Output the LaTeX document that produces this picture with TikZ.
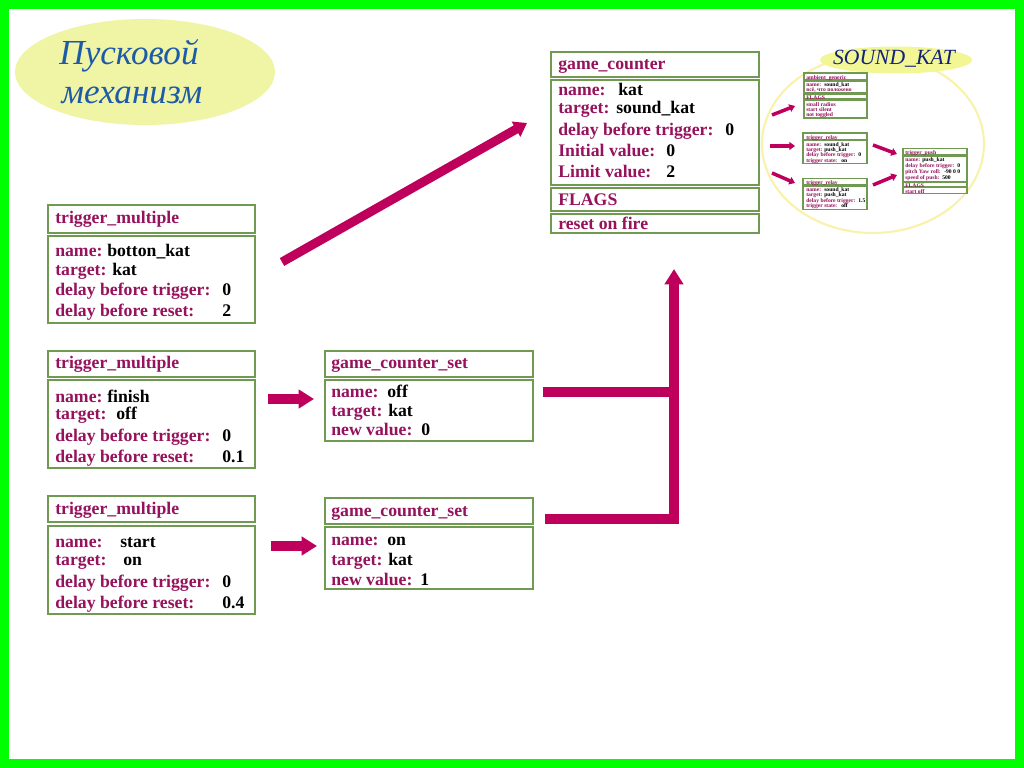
\documentclass[tikz,border=0pt]{standalone}
\usepackage{fontspec}
\setmainfont{Liberation Serif}
\usetikzlibrary{arrows.meta,positioning,calc,fit,shapes.geometric}
\definecolor{framegreen}{RGB}{0,255,0}
\definecolor{boxgreen}{RGB}{112,154,82}
\definecolor{lblpurple}{RGB}{150,18,92}
\definecolor{arrowred}{RGB}{190,0,92}
\definecolor{paleyellow}{RGB}{240,245,165}
\definecolor{titleblue}{RGB}{30,90,170}
\definecolor{navy}{RGB}{20,35,120}
\definecolor{rimyellow}{RGB}{248,242,170}
\newcommand\lblfont{\bfseries\fontsize{12.6}{14}\selectfont}
\newcommand\minifont{\bfseries\fontsize{4}{5}\selectfont}

\begin{document}
\begin{tikzpicture}[
    x=0.025cm, y=-0.025cm,
    box/.style={draw=boxgreen, line width=2.1pt, inner sep=0pt},
    minibox/.style={draw=boxgreen, line width=0.8pt, inner sep=0pt},
    lbl/.style={font=\lblfont, text=lblpurple, anchor=west, inner sep=0pt, text height=1em, text depth=0.16em},
    val/.style={lbl, text=black},
    mlbl/.style={lbl, font=\minifont, text height=0.7em, text depth=0.3em},
    mval/.style={mlbl, text=black},
    fat/.style={draw=arrowred, line width=7pt},
    fattip/.style={-{Triangle[width=13pt,length=11pt]}},
    thinarrow/.style={draw=arrowred, line width=2.5pt, -{Triangle[width=5.5pt,length=4pt]}}
]
    \useasboundingbox (0,0) rectangle (1024,768);
    % frame
    \fill[framegreen] (0,0) rectangle (1024,768);
    \fill[white] (9,9) rectangle (1015,759);

    % title
    \node[ellipse, fill=paleyellow, minimum width=260*0.025cm, minimum height=106*0.025cm] (title) at (145,72) {};
    \node[font=\itshape\fontsize{25}{30}\selectfont, text=titleblue, anchor=base] (title1) at (129,65) {Пусковой};
    \node[font=\itshape\fontsize{25}{30}\selectfont, text=titleblue, anchor=base] (title2) at (132,104) {механизм};

    % trigger_multiple (botton_kat)
    \node[box, fit={(48,205) (255,233)}] (tmAhead) {};
    \node[box, fit={(48,236) (255,323)}] (tmAbody) {};
    \node[lbl] (tmA-t) at (55,218) {trigger\_multiple};
    \foreach \yy/\lab/\vx/\vv [count=\i] in {251/name:/107/botton\_kat, 270/target:/112/kat, 290/delay before trigger:/222/0, 311/delay before reset:/222/2}
      {\node[lbl] (tmA-l\i) at (55,\yy) {\lab}; \node[val] (tmA-v\i) at (\vx,\yy) {\vv};}

    % trigger_multiple (finish)
    \node[box, fit={(48,351) (255,377)}] (tmBhead) {};
    \node[box, fit={(48,380) (255,468)}] (tmBbody) {};
    \node[lbl] (tmB-t) at (55,363) {trigger\_multiple};
    \foreach \yy/\lab/\vx/\vv [count=\i] in {397/name:/107/finish, 414/target:/116/off, 436/delay before trigger:/222/0, 457/delay before reset:/222/0.1}
      {\node[lbl] (tmB-l\i) at (55,\yy) {\lab}; \node[val] (tmB-v\i) at (\vx,\yy) {\vv};}

    % trigger_multiple (start)
    \node[box, fit={(48,496) (255,522)}] (tmChead) {};
    \node[box, fit={(48,526) (255,614)}] (tmCbody) {};
    \node[lbl] (tmC-t) at (55,509) {trigger\_multiple};
    \foreach \yy/\lab/\vx/\vv [count=\i] in {542/name:/120/start, 560/target:/123/on, 582/delay before trigger:/222/0, 603/delay before reset:/222/0.4}
      {\node[lbl] (tmC-l\i) at (55,\yy) {\lab}; \node[val] (tmC-v\i) at (\vx,\yy) {\vv};}

    % game_counter_set (off)
    \node[box, fit={(325,351) (533,377)}] (gcsAhead) {};
    \node[box, fit={(325,380) (533,441)}] (gcsAbody) {};
    \node[lbl] (gcsA-t) at (331,363) {game\_counter\_set};
    \foreach \yy/\lab/\vx/\vv [count=\i] in {392/name:/387/off, 411/target:/388/kat, 430/new value:/421/0}
      {\node[lbl] (gcsA-l\i) at (331,\yy) {\lab}; \node[val] (gcsA-v\i) at (\vx,\yy) {\vv};}

    % game_counter_set (on)
    \node[box, fit={(325,498) (533,524)}] (gcsBhead) {};
    \node[box, fit={(325,527) (533,589)}] (gcsBbody) {};
    \node[lbl] (gcsB-t) at (331,511) {game\_counter\_set};
    \foreach \yy/\lab/\vx/\vv [count=\i] in {540/name:/387/on, 560/target:/388/kat, 580/new value:/420/1}
      {\node[lbl] (gcsB-l\i) at (331,\yy) {\lab}; \node[val] (gcsB-v\i) at (\vx,\yy) {\vv};}

    % game_counter
    \node[box, fit={(551,52) (759,77)}] (gchead) {};
    \node[box, fit={(551,80) (759,185)}] (gcbody) {};
    \node[box, fit={(551,188) (759,211)}] (gcflags) {};
    \node[box, fit={(551,214) (759,233)}] (gcfire) {};
    \node[lbl] (gc-t) at (558,64) {game\_counter};
    \foreach \yy/\lab/\vx/\vv [count=\i] in {90/name:/618/kat, 108/target:/616/sound\_kat, 130/delay before trigger:/725/0, 151/Initial value:/666/0, 172/Limit value:/666/2}
      {\node[lbl] (gc-l\i) at (558,\yy) {\lab}; \node[val] (gc-v\i) at (\vx,\yy) {\vv};}
    \node[lbl] (gc-f) at (558,200) {FLAGS};
    \node[lbl] (gc-r) at (558,224) {reset on fire};

    % SOUND_KAT group
    \draw[rimyellow, line width=1.5pt] (873,144) ellipse (111 and 89);
    \node[ellipse, fill=paleyellow!90!yellow, minimum width=152*0.025cm, minimum height=27*0.025cm] (sk) at (896,60) {};
    \node[font=\itshape\fontsize{15.4}{18}\selectfont, text=navy] (sk-t) at (894,59) {SOUND\_KAT};

    % ambient_generic
    \node[minibox, fit={(804,73) (867,80)}] (aghead) {};
    \node[minibox, fit={(804,81) (867,93)}] (agbody) {};
    \node[minibox, fit={(804,94) (867,99)}] (agflags) {};
    \node[minibox, fit={(804,100) (867,118)}] (agfb) {};
    \node[mlbl] (ag-t) at (806,76.5) {ambient\_generic};
    \node[mlbl] (ag-l1) at (806,84) {name:};
    \node[mval] (ag-v1) at (824,84) {sound\_kat};
    \node[mlbl] (ag-l2) at (806,89) {всё, что положено};
    \node[mlbl] (ag-f) at (806,96.7) {FLAGS};
    \foreach \yy/\lab [count=\i] in {103.3/small radius, 109/start silent, 114/not toggled}
      {\node[mlbl] (ag-fl\i) at (806,\yy) {\lab};}

    % trigger_relay (on)
    \node[minibox, fit={(803,133) (867,139.5)}] (trAhead) {};
    \node[minibox, fit={(803,140.5) (867,163.5)}] (trAbody) {};
    \node[mlbl] (trA-t) at (806,136.3) {trigger\_relay};
    \foreach \yy/\lab/\vx/\vv [count=\i] in {143.5/name:/824/sound\_kat, 148.5/target:/824/push\_kat, 154/delay before trigger:/858/0, 159.5/trigger state:/841/on}
      {\node[mlbl] (trA-l\i) at (806,\yy) {\lab}; \node[mval] (trA-v\i) at (\vx,\yy) {\vv};}

    % trigger_relay (off)
    \node[minibox, fit={(803,178.5) (867,185)}] (trBhead) {};
    \node[minibox, fit={(803,186) (867,209.5)}] (trBbody) {};
    \node[mlbl] (trB-t) at (806,181.7) {trigger\_relay};
    \foreach \yy/\lab/\vx/\vv [count=\i] in {188.5/name:/824/sound\_kat, 193.7/target:/824/push\_kat, 199.3/delay before trigger:/858/1.5, 205/trigger state:/841/off}
      {\node[mlbl] (trB-l\i) at (806,\yy) {\lab}; \node[mval] (trB-v\i) at (\vx,\yy) {\vv};}

    % trigger_push
    \node[minibox, fit={(903,148.5) (967,155)}] (tphead) {};
    \node[minibox, fit={(903,156) (967,181.5)}] (tpbody) {};
    \node[minibox, fit={(903,182.5) (967,186.7)}] (tpflags) {};
    \node[minibox, fit={(903,187.5) (967,193.3)}] (tpoff) {};
    \node[mlbl] (tp-t) at (905,151.7) {trigger\_push};
    \foreach \yy/\lab/\vx/\vv [count=\i] in {159/name:/922/push\_kat, 165/delay before trigger:/957/0, 171/pitch Yaw roll:/944/-90 0 0, 176.7/speed of push:/942/500}
      {\node[mlbl] (tp-l\i) at (905,\yy) {\lab}; \node[mval] (tp-v\i) at (\vx,\yy) {\vv};}
    \node[mlbl] (tp-f) at (905,184.5) {FLAGS};
    \node[mlbl] (tp-o) at (905,190.4) {start off};

    % arrows
    \coordinate (dgS) at (282,262);
    \coordinate (dgE) at (527,123);
    \draw[fat, line width=6.4pt, -{Triangle[width=12pt,length=9pt]}] (dgS) -- (dgE);
    \coordinate (finS) at (268,399);
    \coordinate (finE) at (314,399);
    \draw[fat, fattip] (finS) -- (finE);
    \coordinate (stS) at (271,546);
    \coordinate (stE) at (317,546);
    \draw[fat, fattip] (stS) -- (stE);
    \coordinate (offS) at (543,392);
    \coordinate (onS) at (545,519);
    \coordinate (gcIn) at (674,269);
    \draw[fat] (offS) -- (offS -| gcIn);
    \draw[fat, fattip, line join=miter] (onS) -| (gcIn);

    % arrows inside SOUND_KAT
    \coordinate (s1a) at (772,115);  \coordinate (s1b) at (795,106);
    \coordinate (s2a) at (770,146);  \coordinate (s2b) at (795,146);
    \coordinate (s3a) at (772,173);  \coordinate (s3b) at (795,183);
    \coordinate (s4a) at (873,145);  \coordinate (s4b) at (897,154);
    \coordinate (s5a) at (873,185);  \coordinate (s5b) at (897,175);
    \draw[thinarrow] (s1a) -- (s1b);
    \draw[thinarrow] (s2a) -- (s2b);
    \draw[thinarrow] (s3a) -- (s3b);
    \draw[thinarrow] (s4a) -- (s4b);
    \draw[thinarrow] (s5a) -- (s5b);
\end{tikzpicture}
\end{document}
